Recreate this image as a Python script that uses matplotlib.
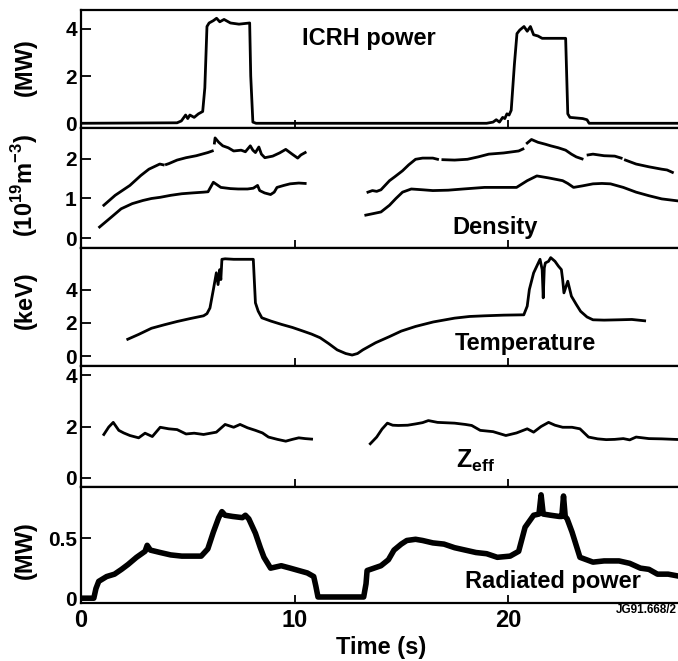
import matplotlib
matplotlib.use('Agg')
import matplotlib.pyplot as plt
import numpy as np

plt.rcParams['font.family'] = ['Liberation Sans', 'DejaVu Sans']
plt.rcParams['mathtext.fontset'] = 'custom'
plt.rcParams['mathtext.rm'] = 'Liberation Sans'
plt.rcParams['mathtext.bf'] = 'Liberation Sans:bold'

# ---------------- data ----------------
icrh_t = [0, 4.5, 4.7, 4.9, 5.0, 5.1, 5.3, 5.5, 5.7, 5.8, 5.9, 6.0, 6.2, 6.35, 6.5, 6.7,
          7.0, 7.4, 7.9, 7.95, 8.05, 8.2, 19.0, 19.3, 19.45, 19.6, 19.75, 19.85, 19.95,
          20.05, 20.15, 20.3, 20.42, 20.55, 20.75, 20.9, 21.05, 21.2, 21.4, 21.6, 22.0,
          22.7, 22.8, 22.9, 23.5, 23.7, 23.8, 28.1]
icrh_p = [0, 0.02, 0.1, 0.35, 0.2, 0.35, 0.25, 0.4, 0.5, 1.5, 4.1, 4.25, 4.35, 4.45,
          4.3, 4.4, 4.25, 4.2, 4.25, 2.0, 0.05, 0.0, 0.0, 0.05, 0.15, 0.05, 0.25, 0.2,
          0.4, 0.35, 0.55, 2.5, 3.8, 3.95, 4.1, 3.9, 4.1, 3.75, 3.7, 3.6, 3.6, 3.6, 0.4,
          0.25, 0.2, 0.15, 0.0, 0.0]

dens_up_t1 = [1.07, 1.6, 2.29, 2.8, 3.18, 3.69, 3.85, np.nan, 4.0, 4.11, 4.5, 4.92, 5.4,
              5.94, 6.15, np.nan, 6.25, 6.28, 6.45, 6.64, 6.9, 7.15, 7.5, 7.7, 7.93, 8.05,
              8.17, 8.33, 8.45, 8.61, 8.98, 9.3, 9.59, 9.89, 10.15, 10.3, 10.5]
dens_up_v1 = [0.83, 1.08, 1.33, 1.58, 1.74, 1.87, 1.85, np.nan, 1.86, 1.88, 1.97, 2.03,
              2.08, 2.16, 2.2, np.nan, 2.4, 2.53, 2.42, 2.33, 2.28, 2.2, 2.22, 2.18, 2.33,
              2.22, 2.16, 2.3, 2.12, 2.03, 2.07, 2.15, 2.24, 2.12, 2.02, 2.1, 2.16]
dens_up_t2 = [13.44, 13.65, 13.85, 14.05, 14.45, 14.7, 15.06, 15.35, 15.67, 16.0, 16.48,
              16.7, np.nan, 16.95, 17.5, 18.1, 18.6, 19.1, 19.8, 20.5, 20.7, np.nan, 20.9,
              21.1, 21.4, 21.75, 22.0, 22.36, 22.7, 22.97, 23.2, 23.47, np.nan, 23.75,
              23.98, 24.5, 25.0, 25.3, np.nan, 25.5, 26.0, 26.6, 27.2, 27.45, 27.7]
dens_up_v2 = [1.16, 1.2, 1.18, 1.22, 1.45, 1.55, 1.7, 1.85, 1.99, 2.02, 2.02, 1.99,
              np.nan, 1.98, 1.97, 1.99, 2.05, 2.12, 2.15, 2.2, 2.25, np.nan, 2.4, 2.49,
              2.42, 2.37, 2.33, 2.28, 2.22, 2.12, 2.05, 2.0, np.nan, 2.1, 2.12, 2.08,
              2.07, 2.02, np.nan, 1.97, 1.87, 1.8, 1.74, 1.72, 1.66]
dens_lo_t1 = [0.87, 1.4, 1.88, 2.4, 2.9, 3.3, 3.71, 4.2, 4.72, 5.2, 5.74, 5.95, 6.2,
              6.55, 7.0, 7.36, 7.8, 8.07, 8.27, 8.37, 8.6, 8.88, 9.05, 9.18, 9.5, 9.79,
              10.2, 10.5]
dens_lo_v1 = [0.28, 0.52, 0.74, 0.87, 0.95, 1.0, 1.03, 1.08, 1.12, 1.14, 1.16, 1.17,
              1.41, 1.28, 1.25, 1.24, 1.24, 1.26, 1.33, 1.2, 1.14, 1.1, 1.16, 1.28, 1.33,
              1.37, 1.39, 1.38]
dens_lo_t2 = [13.34, 13.7, 14.05, 14.45, 14.75, 15.06, 15.47, 16.0, 16.48, 17.2, 17.9,
              18.9, 19.7, 20.4, 20.9, 21.35, 21.9, 22.56, 22.8, 23.07, 23.5, 23.98, 24.4,
              24.8, 25.4, 26.0, 26.6, 27.2, 28.1]
dens_lo_v2 = [0.58, 0.62, 0.66, 0.83, 1.0, 1.16, 1.24, 1.22, 1.2, 1.21, 1.24, 1.28,
              1.28, 1.28, 1.45, 1.57, 1.52, 1.45, 1.38, 1.28, 1.32, 1.37, 1.38, 1.37, 1.28,
              1.16, 1.07, 0.99, 0.93]

temp_t = [2.19, 2.7, 3.3, 3.9, 4.51, 5.1, 5.74, 5.9, 6.04, 6.2, 6.34, 6.42, 6.5, 6.55,
          6.6, 6.75, 7.15, 7.6, 8.07, 8.12, 8.17, 8.3, 8.47, 8.9, 9.4, 9.9, 10.4, 10.8,
          11.2, 11.6, 12.0, 12.4, 12.7, 12.95, 13.2, 13.8, 14.45, 15.0, 15.67, 16.5, 17.5,
          18.2, 18.9, 19.8, 20.74, 20.9, 21.0, 21.2, 21.35, 21.5, 21.6, 21.65, 21.7, 21.75,
          21.9, 22.0, 22.2, 22.36, 22.5, 22.56, 22.62, 22.8, 22.97, 23.2, 23.4, 23.7,
          23.98, 24.5, 25.2, 25.8, 26.4]
temp_v = [1.01, 1.3, 1.67, 1.88, 2.08, 2.25, 2.42, 2.55, 2.89, 4.0, 5.01, 4.3, 5.2,
          4.6, 5.82, 5.85, 5.82, 5.82, 5.82, 4.5, 3.2, 2.7, 2.3, 2.1, 1.9, 1.72, 1.5, 1.32,
          1.1, 0.75, 0.37, 0.15, 0.06, 0.15, 0.37, 0.8, 1.17, 1.5, 1.78, 2.05, 2.28, 2.38,
          2.42, 2.46, 2.48, 3.0, 4.0, 5.0, 5.41, 5.82, 5.2, 3.5, 5.3, 5.6, 5.7, 5.92, 5.7,
          5.41, 5.2, 4.6, 3.8, 4.5, 3.6, 3.1, 2.69, 2.35, 2.18, 2.16, 2.18, 2.2, 2.12]

zeff_t1 = [1.07, 1.3, 1.51, 1.77, 2.0, 2.29, 2.7, 3.0, 3.34, 3.71, 4.11, 4.5, 4.92, 5.3,
           5.74, 6.34, 6.75, 7.15, 7.45, 7.8, 8.17, 8.5, 8.78, 9.2, 9.59, 9.9, 10.2, 10.5,
           10.8]
zeff_v1 = [1.69, 1.98, 2.16, 1.85, 1.75, 1.65, 1.56, 1.74, 1.61, 1.97, 1.91, 1.88, 1.71,
           1.74, 1.69, 1.78, 2.08, 1.97, 2.08, 1.95, 1.85, 1.75, 1.59, 1.5, 1.43, 1.5,
           1.56, 1.53, 1.51]
zeff_t2 = [13.55, 13.85, 14.1, 14.35, 14.6, 14.86, 15.3, 15.67, 16.0, 16.27, 16.7, 17.5,
           18.0, 18.3, 18.7, 19.3, 19.9, 20.4, 20.9, 21.2, 21.55, 21.9, 22.2, 22.56, 23.0,
           23.37, 23.77, 24.2, 24.6, 25.0, 25.4, 25.7, 26.0, 26.6, 27.2, 28.1]
zeff_v2 = [1.33, 1.59, 1.9, 2.13, 2.05, 2.04, 2.05, 2.1, 2.15, 2.23, 2.16, 2.13, 2.08,
           2.04, 1.85, 1.8, 1.65, 1.75, 1.91, 1.78, 2.0, 2.16, 2.05, 1.97, 1.97, 1.91,
           1.59, 1.52, 1.49, 1.5, 1.53, 1.48, 1.59, 1.53, 1.52, 1.49]

rad_t = [0.0, 0.6, 0.7, 0.83, 1.2, 1.57, 1.9, 2.2, 2.6, 3.0, 3.1, 3.25, 3.71, 4.2, 4.72,
         5.2, 5.63, 5.94, 6.2, 6.45, 6.6, 6.75, 7.1, 7.56, 7.7, 7.86, 8.17, 8.4, 8.57,
         8.88, 9.38, 9.8, 10.2, 10.6, 10.9, 11.0, 11.1, 13.24, 13.35, 13.4, 14.05, 14.4,
         14.66, 15.0, 15.26, 15.67, 16.0, 16.48, 17.0, 17.5, 18.0, 18.5, 19.0, 19.5,
         20.1, 20.5, 20.8, 21.2, 21.45, 21.55, 21.65, 22.0, 22.4, 22.52, 22.6, 22.68,
         22.77, 23.0, 23.37, 23.98, 24.5, 25.2, 25.7, 26.2, 26.6, 27.0, 27.5, 28.1]
rad_p = [0.0, 0.0, 0.08, 0.14, 0.18, 0.2, 0.24, 0.28, 0.34, 0.39, 0.44, 0.4, 0.38, 0.36,
         0.35, 0.35, 0.35, 0.41, 0.55, 0.67, 0.72, 0.69, 0.68, 0.67, 0.69, 0.66, 0.54,
         0.42, 0.34, 0.25, 0.27, 0.25, 0.23, 0.21, 0.18, 0.1, 0.01, 0.01, 0.12, 0.23,
         0.27, 0.32, 0.4, 0.45, 0.48, 0.49, 0.48, 0.46, 0.45, 0.42, 0.4, 0.38, 0.37,
         0.34, 0.35, 0.39, 0.59, 0.69, 0.7, 0.86, 0.7, 0.69, 0.68, 0.68, 0.85, 0.68,
         0.66, 0.55, 0.34, 0.3, 0.31, 0.31, 0.29, 0.25, 0.24, 0.2, 0.2, 0.18]

xticks = [0, 10, 20]

# ---------------- layout ----------------
W, H = 678, 661
fig = plt.figure(figsize=(W / 100, H / 100), dpi=100)
bounds = [10, 128, 248, 366, 487, 603]
left_px, right_px = 81, 681
px_per_s = 21.35
xmax = (right_px - left_px) / px_per_s

ylims = [(-0.2, 4.8), (-0.25, 2.78), (-0.6, 6.5), (-0.35, 4.35), (-0.04, 0.925)]
yticks = [[0, 2, 4], [0, 1, 2], [0, 2, 4], [0, 2, 4], [0, 0.5]]
yticklabels = [['0', '2', '4'], ['0', '1', '2'], ['0', '2', '4'], ['0', '2', '4'],
               ['0', '0.5']]

axes = []
for i in range(5):
    top, bot = bounds[i], bounds[i + 1]
    ax = fig.add_axes([left_px / W, 1 - bot / H, (right_px - left_px) / W, (bot - top) / H])
    ax.set_xlim(0, xmax)
    ax.set_ylim(*ylims[i])
    ax.set_yticks(yticks[i])
    ax.set_yticklabels(yticklabels[i], fontsize=15, fontweight='bold')
    ax.set_xticks(xticks)
    ax.tick_params(axis='both', direction='in', length=7, width=1.3, pad=3)
    ax.tick_params(axis='x', labelbottom=(i == 4), labelsize=17, length=6, pad=4)
    for lab in ax.get_xticklabels():
        lab.set_fontweight('bold')
    for s in ax.spines.values():
        s.set_linewidth(1.6)
    ax.spines['right'].set_visible(False)
    axes.append(ax)

lw = 2.0
k = 'black'
axes[0].plot(icrh_t, icrh_p, color=k, lw=lw)
axes[1].plot(dens_up_t1, dens_up_v1, color=k, lw=lw)
axes[1].plot(dens_up_t2, dens_up_v2, color=k, lw=lw)
axes[1].plot(dens_lo_t1, dens_lo_v1, color=k, lw=lw)
axes[1].plot(dens_lo_t2, dens_lo_v2, color=k, lw=lw)
axes[2].plot(temp_t, temp_v, color=k, lw=lw)
axes[3].plot(zeff_t1, zeff_v1, color=k, lw=lw)
axes[3].plot(zeff_t2, zeff_v2, color=k, lw=lw)
axes[4].plot(rad_t, rad_p, color=k, lw=4.0)

# panel annotations
fs = 17
axes[0].text(10.35, 3.6, 'ICRH power', fontsize=fs, fontweight='bold', va='center', ha='left')
axes[1].text(19.4, 0.27, 'Density', fontsize=fs, fontweight='bold', va='center', ha='center')
axes[2].text(20.8, 0.75, 'Temperature', fontsize=fs, fontweight='bold', va='center', ha='center')
axes[3].text(18.5, 0.65, r'$\mathbf{Z}_{\mathbf{eff}}$', fontsize=18, va='center', ha='center')
axes[4].text(22.1, 0.14, 'Radiated power', fontsize=fs, fontweight='bold', va='center', ha='center')

# y labels
ylab_kw = dict(rotation=90, fontsize=17, fontweight='bold', ha='center', va='center')
fig.text(25 / W, 1 - 67 / H, '(MW)', **ylab_kw)
fig.text(25 / W, 1 - 185 / H, r'(10$^{\mathbf{19}}$m$^{\mathbf{-3}}$)', **ylab_kw)
fig.text(25 / W, 1 - 300 / H, '(keV)', **ylab_kw)
fig.text(25 / W, 1 - 550 / H, '(MW)', **ylab_kw)

axes[4].set_xlabel('Time (s)', fontsize=17, fontweight='bold', labelpad=3)
fig.text(677 / W, 1 - 610 / H, 'JG91.668/2', fontsize=8.5, fontweight='bold',
         ha='right', va='center')

fig.savefig('out.png', dpi=100)
